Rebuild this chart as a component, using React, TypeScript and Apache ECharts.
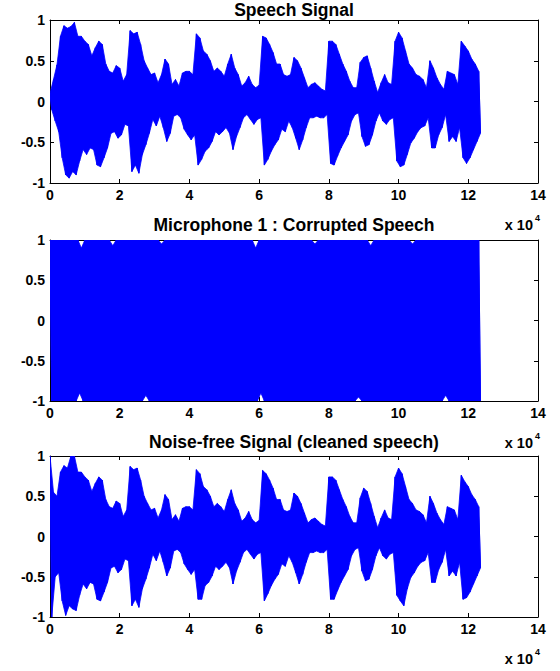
import React, { useEffect, useRef } from "react";
import * as echarts from "echarts";

// Bin width (samples) of the peak readings below
const BIN = 1000;

// Tick labels
const xTicks = ["0", "2", "4", "6", "8", "10", "12", "14"];
const yTicks = ["-1", "-0.5", "0", "0.5", "1"];
const titles = ["Speech Signal", "Microphone 1 : Corrupted Speech", "Noise-free Signal (cleaned speech)"];

// Panel 1: speech signal, per-1000-sample positive and negative peaks
const speechUpper = [
  0.1, 0.27, 0.45, 0.8, 0.93, 0.9, 0.92, 0.97, 0.8, 0.8,
  0.74, 0.7, 0.56, 0.66, 0.74, 0.7, 0.46, 0.37, 0.35, 0.44,
  0.41, 0.25, 0.33, 0.87, 0.83, 0.85, 0.7, 0.5, 0.41, 0.33,
  0.35, 0.23, 0.33, 0.52, 0.46, 0.21, 0.27, 0.19, 0.35, 0.37,
  0.37, 0.33, 0.83, 0.78, 0.62, 0.58, 0.5, 0.37, 0.41, 0.37,
  0.31, 0.46, 0.58, 0.41, 0.33, 0.19, 0.23, 0.31, 0.21, 0.17,
  0.2, 0.8, 0.78, 0.7, 0.6, 0.46, 0.46, 0.33, 0.31, 0.33,
  0.54, 0.5, 0.41, 0.29, 0.17, 0.21, 0.23, 0.19, 0.15, 0.13,
  0.74, 0.74, 0.7, 0.58, 0.46, 0.37, 0.25, 0.17, 0.17, 0.48,
  0.54, 0.56, 0.41, 0.25, 0.11, 0.23, 0.33, 0.23, 0.21, 0.74,
  0.85, 0.78, 0.62, 0.46, 0.41, 0.33, 0.31, 0.27, 0.17, 0.5,
  0.41, 0.29, 0.21, 0.15, 0.37, 0.35, 0.33, 0.21, 0.74, 0.68,
  0.62, 0.52, 0.46, 0.37,
];
const speechLower = [
  -0.1, -0.24, -0.37, -0.69, -0.9, -0.94, -0.86, -0.9, -0.73, -0.59,
  -0.65, -0.57, -0.59, -0.78, -0.8, -0.69, -0.57, -0.39, -0.37, -0.45,
  -0.41, -0.28, -0.3, -0.86, -0.78, -0.88, -0.65, -0.53, -0.39, -0.22,
  -0.3, -0.18, -0.32, -0.49, -0.39, -0.18, -0.16, -0.2, -0.34, -0.41,
  -0.47, -0.41, -0.78, -0.71, -0.61, -0.57, -0.49, -0.37, -0.41, -0.37,
  -0.32, -0.39, -0.59, -0.43, -0.32, -0.2, -0.16, -0.22, -0.28, -0.22,
  -0.2, -0.78, -0.71, -0.61, -0.53, -0.47, -0.34, -0.37, -0.24, -0.32,
  -0.45, -0.59, -0.47, -0.32, -0.2, -0.2, -0.18, -0.2, -0.2, -0.16,
  -0.76, -0.78, -0.67, -0.57, -0.49, -0.41, -0.24, -0.16, -0.14, -0.43,
  -0.55, -0.53, -0.41, -0.24, -0.14, -0.24, -0.28, -0.22, -0.2, -0.73,
  -0.8, -0.78, -0.65, -0.51, -0.45, -0.37, -0.32, -0.3, -0.2, -0.57,
  -0.57, -0.41, -0.32, -0.16, -0.49, -0.43, -0.49, -0.32, -0.69, -0.76,
  -0.69, -0.59, -0.49, -0.39,
];

// Panel 2: corrupted microphone signal peaks
const noisyUpper = [
  1, 1, 1, 1, 1, 1, 1, 1, 1, 0.9,
  1, 1, 1, 1, 1, 1, 1, 1, 0.93, 1,
  1, 1, 1, 1, 1, 1, 1, 1, 1, 1,
  1, 1, 0.95, 1, 1, 1, 1, 1, 1, 1,
  1, 1, 1, 1, 1, 1, 1, 1, 1, 1,
  1, 1, 1, 1, 1, 1, 1, 1, 1, 0.9,
  1, 1, 1, 1, 1, 1, 1, 1, 1, 1,
  1, 1, 1, 1, 1, 1, 0.95, 1, 1, 1,
  1, 1, 1, 1, 1, 1, 1, 1, 1, 1,
  1, 1, 0.93, 1, 1, 1, 1, 1, 1, 1,
  1, 1, 1, 1, 0.95, 1, 1, 1, 1, 1,
  1, 1, 1, 1, 1, 1, 1, 1, 1, 1,
  1, 1, 1, 1,
];
const noisyLower = [
  -1, -1, -1, -1, -1, -1, -1, -1, -0.9, -1,
  -1, -1, -1, -1, -1, -1, -1, -1, -1, -1,
  -1, -1, -1, -1, -1, -1, -1, -0.93, -1, -1,
  -1, -1, -1, -1, -1, -1, -1, -1, -1, -1,
  -1, -1, -1, -1, -1, -1, -1, -1, -1, -1,
  -1, -1, -1, -1, -1, -1, -1, -1, -1, -1,
  -0.9, -1, -1, -1, -1, -1, -1, -1, -1, -1,
  -1, -1, -1, -1, -1, -1, -1, -1, -1, -1,
  -1, -1, -1, -1, -1, -1, -1, -1, -0.95, -1,
  -1, -1, -1, -1, -1, -1, -1, -1, -1, -1,
  -1, -1, -1, -1, -1, -1, -1, -1, -1, -1,
  -1, -1, -1, -0.93, -1, -1, -1, -1, -1, -1,
  -1, -1, -1, -1,
];

// Panel 3: cleaned speech peaks
const cleanUpper = [
  1.0, 0.55, 0.5, 0.8, 0.88, 0.85, 1.0, 1.0, 0.8, 0.8,
  0.74, 0.7, 0.56, 0.66, 0.74, 0.7, 0.46, 0.37, 0.35, 0.44,
  0.41, 0.25, 0.33, 0.87, 0.83, 0.85, 0.7, 0.5, 0.41, 0.33,
  0.35, 0.23, 0.33, 0.52, 0.46, 0.21, 0.27, 0.19, 0.35, 0.37,
  0.37, 0.33, 0.83, 0.78, 0.62, 0.58, 0.5, 0.37, 0.41, 0.37,
  0.31, 0.46, 0.58, 0.41, 0.33, 0.19, 0.23, 0.31, 0.21, 0.17,
  0.2, 0.82, 0.78, 0.7, 0.6, 0.46, 0.46, 0.33, 0.31, 0.33,
  0.54, 0.5, 0.41, 0.29, 0.17, 0.21, 0.23, 0.19, 0.15, 0.13,
  0.74, 0.74, 0.7, 0.58, 0.46, 0.37, 0.25, 0.17, 0.17, 0.48,
  0.6, 0.56, 0.41, 0.25, 0.11, 0.23, 0.33, 0.23, 0.21, 0.74,
  0.85, 0.78, 0.62, 0.46, 0.41, 0.33, 0.31, 0.27, 0.17, 0.5,
  0.41, 0.29, 0.21, 0.15, 0.37, 0.35, 0.33, 0.21, 0.76, 0.68,
  0.62, 0.52, 0.46, 0.37,
];
const cleanLower = [
  -1.0, -0.5, -0.45, -0.8, -0.98, -0.86, -0.9, -0.92, -0.73, -0.59,
  -0.65, -0.57, -0.59, -0.78, -0.8, -0.69, -0.57, -0.39, -0.37, -0.45,
  -0.41, -0.28, -0.3, -0.86, -0.78, -0.88, -0.65, -0.53, -0.39, -0.22,
  -0.3, -0.18, -0.32, -0.49, -0.39, -0.18, -0.16, -0.2, -0.34, -0.41,
  -0.47, -0.41, -0.78, -0.78, -0.61, -0.57, -0.49, -0.37, -0.41, -0.37,
  -0.32, -0.39, -0.59, -0.43, -0.32, -0.2, -0.16, -0.22, -0.28, -0.22,
  -0.2, -0.8, -0.71, -0.61, -0.53, -0.47, -0.34, -0.37, -0.24, -0.32,
  -0.45, -0.59, -0.47, -0.32, -0.2, -0.2, -0.18, -0.2, -0.2, -0.16,
  -0.78, -0.78, -0.67, -0.57, -0.49, -0.41, -0.24, -0.16, -0.14, -0.43,
  -0.55, -0.53, -0.41, -0.24, -0.14, -0.24, -0.28, -0.22, -0.2, -0.73,
  -0.8, -0.86, -0.65, -0.51, -0.45, -0.37, -0.32, -0.3, -0.2, -0.57,
  -0.57, -0.41, -0.32, -0.16, -0.49, -0.43, -0.49, -0.32, -0.78, -0.76,
  -0.69, -0.59, -0.49, -0.39,
];

const FONT = '"Liberation Sans", Arial, Helvetica, sans-serif';

// custom series: the waveform drawn as the filled band between its per-bin peaks,
// placed through the axes' scales (api.coord)
function waveSeries(up: number[], low: number[], gi: number) {
  return {
    type: "custom",
    xAxisIndex: gi * 2,
    yAxisIndex: gi * 2,
    silent: true,
    clip: true,
    data: up.map((u, k) => [k * BIN, u, low[k]]),
    renderItem: (params: any, api: any) => {
      if (params.dataIndex !== 0) return null;
      const top: number[][] = [];
      const bottom: number[][] = [];
      for (let k = 0; k < up.length; k++) {
        top.push(api.coord([k * BIN, up[k]]));
        bottom.push(api.coord([k * BIN + BIN / 2, low[k]]));
      }
      const zig: number[][] = [];
      for (let k = 0; k < up.length; k++) {
        zig.push(top[k]);
        zig.push(bottom[k]);
      }
      return {
        type: "group",
        children: [
          {
            type: "polygon",
            shape: { points: top.concat(bottom.slice().reverse()) },
            style: { fill: "#0000ff", stroke: "#0000ff", lineWidth: 0.8 },
          },
          {
            type: "polyline",
            shape: { points: zig },
            style: { stroke: "#0000ff", lineWidth: 1, fill: null },
          },
        ],
      };
    },
  };
}

export default function App() {
  const ref = useRef<HTMLDivElement>(null);
  useEffect(() => {
    if (!ref.current) return;
    const chart = echarts.init(ref.current, undefined, { renderer: "svg" });
    const tops = [20, 240, 456];
    const heights = [163, 161, 161];
    const L = 50, W = 488;
    const labelStyle = { color: "#000", fontFamily: FONT, fontWeight: "bold" as const, fontSize: 14 };
    const line = { show: true, onZero: false, lineStyle: { color: "#000", width: 1 } };
    const tick = { show: true, inside: true, length: 4, lineStyle: { color: "#000", width: 1 } };
    const xAxis: any[] = [];
    const yAxis: any[] = [];
    tops.forEach((_, i) => {
      xAxis.push({
        gridIndex: i, type: "value", min: 0, max: 140000, interval: 20000, position: "bottom",
        axisLine: line, axisTick: tick, splitLine: { show: false },
        axisLabel: { ...labelStyle, margin: 5, showMinLabel: true, showMaxLabel: true,
          formatter: (v: number) => xTicks[Math.round(v / 20000)] },
      });
      xAxis.push({
        gridIndex: i, type: "value", min: 0, max: 140000, interval: 20000, position: "top",
        axisLine: line, axisTick: tick, splitLine: { show: false }, axisLabel: { show: false },
      });
      yAxis.push({
        gridIndex: i, type: "value", min: -1, max: 1, interval: 0.5, position: "left",
        axisLine: line, axisTick: tick, splitLine: { show: false },
        axisLabel: { ...labelStyle, margin: 5, showMinLabel: true, showMaxLabel: true,
          formatter: (v: number) => yTicks[Math.round((v + 1) / 0.5)] },
      });
      yAxis.push({
        gridIndex: i, type: "value", min: -1, max: 1, interval: 0.5, position: "right",
        axisLine: line, axisTick: tick, splitLine: { show: false }, axisLabel: { show: false },
      });
    });
    const series = [
      waveSeries(speechUpper, speechLower, 0),
      waveSeries(noisyUpper, noisyLower, 1),
      waveSeries(cleanUpper, cleanLower, 2),
    ];
    const graphic: any[] = [];
    const titleY = [10, 225, 442];
    const expY = [225, 443, 659];
    tops.forEach((t, i) => {
      graphic.push({
        type: "text", x: L + W / 2, y: titleY[i],
        style: { text: titles[i], textAlign: "center", textVerticalAlign: "middle",
          font: `bold 17.5px ${FONT}`, fill: "#000" },
      });
      graphic.push({
        type: "text", x: 533, y: expY[i],
        style: { text: "x 10", textAlign: "right", textVerticalAlign: "middle",
          font: `bold 14.5px ${FONT}`, fill: "#000" },
      });
      graphic.push({
        type: "text", x: 535, y: expY[i] - 7,
        style: { text: "4", textAlign: "left", textVerticalAlign: "middle",
          font: `bold 9px ${FONT}`, fill: "#000" },
      });
    });
    chart.setOption({
      animation: false,
      backgroundColor: "#fff",
      grid: tops.map((t, i) => ({ left: L, top: t, width: W, height: heights[i], containLabel: false })),
      xAxis, yAxis, series, graphic,
    });
    return () => chart.dispose();
  }, []);
  return (
    <div ref={ref} style={{ position: "absolute", left: 0, top: 0, width: 560, height: 671 }} />
  );
}
